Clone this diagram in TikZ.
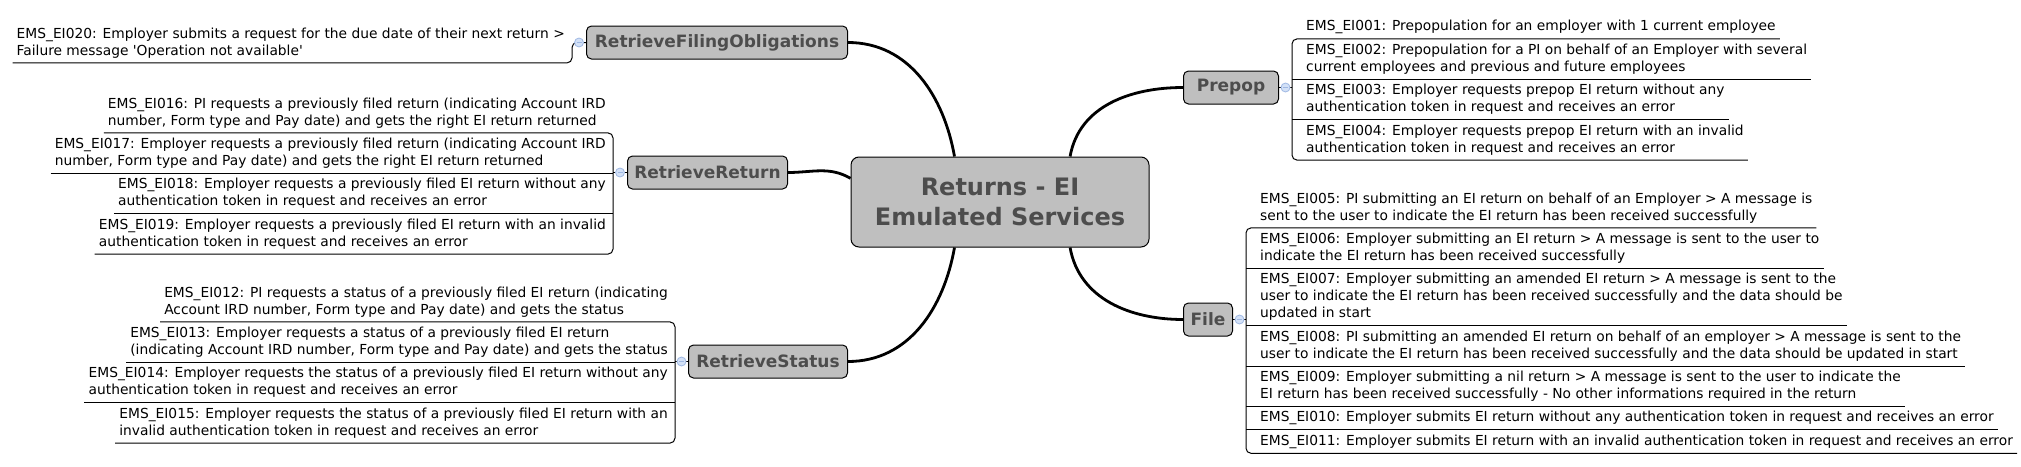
\documentclass[tikz,border=0pt]{standalone}
\usepackage{fontspec}
\newfontfamily\mapfont{DejaVu Sans}
\usepackage{tikz}
\usetikzlibrary{positioning,calc}
\definecolor{boxgray}{HTML}{BFBFBF}
\definecolor{labelgray}{HTML}{4D4D4D}
\definecolor{dotblue}{HTML}{D3E1F7}
\definecolor{dotedge}{HTML}{9FB8E3}
\pgfdeclarelayer{bg}
\pgfsetlayers{bg,main}

\begin{document}
\begin{tikzpicture}[
    x=1pt, y=1pt,
    root/.style={rectangle, draw, line width=1pt, fill=boxgray, rounded corners=8pt, align=center, text=labelgray, font=\mapfont\fontsize{24}{30}\selectfont\bfseries, minimum width=298pt, minimum height=90pt},
    topic/.style={rectangle, draw, line width=1pt, fill=boxgray, rounded corners=5pt, text=labelgray, font=\mapfont\fontsize{17}{20}\selectfont\bfseries, inner xsep=4pt, minimum height=33pt},
    leafR/.style={anchor=north west, align=left, inner xsep=4pt, inner ysep=2pt, font=\mapfont\fontsize{13.8}{17}\selectfont},
    leafL/.style={leafR, anchor=north east},
    one/.style={minimum height=23pt},
    two/.style={minimum height=40pt},
    three/.style={minimum height=57pt},
    branch/.style={draw, line width=2.8pt},
    twig/.style={draw, line width=1pt, rounded corners=5pt},
    dot/.style={circle, draw=dotedge, fill=dotblue, line width=0.8pt, inner sep=0pt, minimum size=9pt,
        path picture={\draw [dotedge] ([xshift=2pt]path picture bounding box.west) -- ([xshift=-2pt]path picture bounding box.east);}}
]
\useasboundingbox (0,0) rectangle (2021,-466);

\node [root] (root) at (1000,-202) {Returns - EI\\Emulated Services};
\node [topic, anchor=east, minimum width=261pt] (rfo) at (848,-42.5) {RetrieveFilingObligations};
\node [topic, anchor=east, minimum width=160pt] (rret) at (788,-172.5) {RetrieveReturn};
\node [topic, anchor=east, minimum width=159pt] (rstat) at (848,-361.5) {RetrieveStatus};
\node [topic, anchor=west, minimum width=95pt] (prepop) at (1183,-87.5) {Prepop};
\node [topic, anchor=west, minimum width=49pt] (file) at (1183,-319.5) {File};

\begin{pgfonlayer}{bg}
\path [branch] (root.135) to [out=100, in=0] (rfo.east);
\path [branch] (root.171) to [out=150, in=0] (rret.east);
\path [branch] (root.225) to [out=-100, in=0] (rstat.east);
\path [branch] (root.33) to [out=80, in=180] (prepop.west);
\path [branch] (root.327) to [out=-80, in=180] (file.west);
\end{pgfonlayer}

\coordinate [left=14pt of rfo.west] (fobr);
\coordinate [left=14pt of rret.west] (rrbr);
\coordinate [left=13pt of rstat.west] (rsbr);
\coordinate [right=13pt of prepop.east] (ppbr);
\coordinate [right=13pt of file.east] (flbr);

\node [leafL, two] (e020) at ($(fobr)+(-3,20)$) {EMS\_EI020: Employer submits a request for the due date of their next return >\\Failure message 'Operation not available'};

\node [leafL, two] (e016) at ($(rrbr)+(-3,80)$) {EMS\_EI016: PI requests a previously filed return (indicating Account IRD\\number, Form type and Pay date) and gets the right EI return returned};
\node [leafL, two] (e017) at (e016.south east) {EMS\_EI017: Employer requests a previously filed return (indicating Account IRD\\number, Form type and Pay date) and gets the right EI return returned};
\node [leafL, two] (e018) at (e017.south east) {EMS\_EI018: Employer requests a previously filed EI return without any\\authentication token in request and receives an error};
\node [leafL, two] (e019) at (e018.south east) {EMS\_EI019: Employer requests a previously filed EI return with an invalid\\authentication token in request and receives an error};

\node [leafL, two] (e012) at ($(rsbr)+(-3,80)$) {EMS\_EI012: PI requests a status of a previously filed EI return (indicating\\Account IRD number, Form type and Pay date) and gets the status};
\node [leafL, two] (e013) at (e012.south east) {EMS\_EI013: Employer requests a status of a previously filed EI return\\(indicating Account IRD number, Form type and Pay date) and gets the status};
\node [leafL, two] (e014) at (e013.south east) {EMS\_EI014: Employer requests the status of a previously filed EI return without any\\authentication token in request and receives an error};
\node [leafL, two] (e015) at (e014.south east) {EMS\_EI015: Employer requests the status of a previously filed EI return with an\\invalid authentication token in request and receives an error};

\node [leafR, one] (e001) at ($(ppbr)+(10,72)$) {EMS\_EI001: Prepopulation for an employer with 1 current employee};
\node [leafR, two] (e002) at (e001.south west) {EMS\_EI002: Prepopulation for a PI on behalf of an Employer with several\\current employees and previous and future employees};
\node [leafR, two] (e003) at (e002.south west) {EMS\_EI003: Employer requests prepop EI return without any\\authentication token in request and receives an error};
\node [leafR, two] (e004) at (e003.south west) {EMS\_EI004: Employer requests prepop EI return with an invalid\\authentication token in request and receives an error};

\node [leafR, two] (e005) at ($(flbr)+(10,132)$) {EMS\_EI005: PI submitting an EI return on behalf of an Employer > A message is\\sent to the user to indicate the EI return has been received successfully};
\node [leafR, two] (e006) at (e005.south west) {EMS\_EI006: Employer submitting an EI return > A message is sent to the user to\\indicate the EI return has been received successfully};
\node [leafR, three] (e007) at (e006.south west) {EMS\_EI007: Employer submitting an amended EI return > A message is sent to the\\user to indicate the EI return has been received successfully and the data should be\\updated in start};
\node [leafR, two] (e008) at (e007.south west) {EMS\_EI008: PI submitting an amended EI return on behalf of an employer > A message is sent to the\\user to indicate the EI return has been received successfully and the data should be updated in start};
\node [leafR, two] (e009) at (e008.south west) {EMS\_EI009: Employer submitting a nil return > A message is sent to the user to indicate the\\EI return has been received successfully - No other informations required in the return};
\node [leafR, one] (e010) at (e009.south west) {EMS\_EI010: Employer submits EI return without any authentication token in request and receives an error};
\node [leafR, one] (e011) at (e010.south west) {EMS\_EI011: Employer submits EI return with an invalid authentication token in request and receives an error};

\path [twig] (rfo.west) -- (fobr) -- (fobr |- e020.south) -- (e020.south west);

\path [twig] (e016.south west) -- (e016.south -| rrbr) -- (e019.south -| rrbr) -- (e019.south west);
\foreach \n in {e017,e018} \path [twig] (\n.south west) -- (\n.south -| rrbr);
\path [twig] (rret.west) -- (rrbr);

\path [twig] (e012.south west) -- (e012.south -| rsbr) -- (e015.south -| rsbr) -- (e015.south west);
\foreach \n in {e013,e014} \path [twig] (\n.south west) -- (\n.south -| rsbr);
\path [twig] (rstat.west) -- (rsbr);

\path [twig] (e001.south east) -- (e001.south -| ppbr) -- (e004.south -| ppbr) -- (e004.south east);
\foreach \n in {e002,e003} \path [twig] (\n.south -| ppbr) -- (\n.south east);
\path [twig] (prepop.east) -- (ppbr);

\path [twig] (e005.south east) -- (e005.south -| flbr) -- (e011.south -| flbr) -- (e011.south east);
\foreach \n in {e006,e007,e008,e009,e010} \path [twig] (\n.south -| flbr) -- (\n.south east);
\path [twig] (file.east) -- (flbr);

\node [dot] at ($(rfo.west)!0.5!(fobr)$) {};
\node [dot] at ($(rret.west)!0.5!(rrbr)$) {};
\node [dot] at ($(rstat.west)!0.5!(rsbr)$) {};
\node [dot] at ($(prepop.east)!0.5!(ppbr)$) {};
\node [dot] at ($(file.east)!0.5!(flbr)$) {};

\end{tikzpicture}
\end{document}
